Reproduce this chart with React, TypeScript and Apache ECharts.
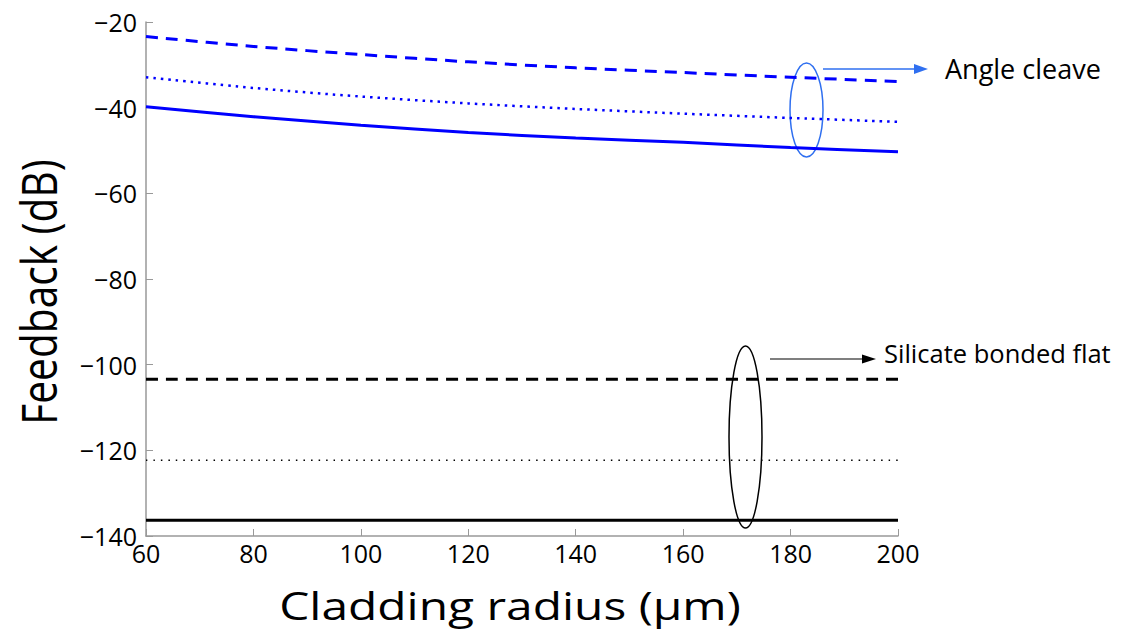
import React, { useEffect, useRef } from "react";
import * as echarts from "echarts";

const radius = [60, 80, 100, 120, 140, 160, 180, 200];
const angleDashed = [-23.4, -25.7, -27.6, -29.3, -30.7, -31.8, -32.9, -33.9];
const angleDotted = [-32.9, -35.4, -37.4, -39.0, -40.3, -41.4, -42.4, -43.3];
const angleSolid = [-39.8, -42.1, -44.1, -45.8, -47.1, -48.1, -49.3, -50.3];
const flatDashed = [-103.4, -103.4, -103.4, -103.4, -103.4, -103.4, -103.4, -103.4];
const flatDotted = [-122.3, -122.3, -122.3, -122.3, -122.3, -122.3, -122.3, -122.3];
const flatSolid = [-136.3, -136.3, -136.3, -136.3, -136.3, -136.3, -136.3, -136.3];
const xTicks = [60, 80, 100, 120, 140, 160, 180, 200];
const yTicks = [-140, -120, -100, -80, -60, -40, -20];

const FONT = "'Open Sans', 'Noto Sans', sans-serif";

function pairs(ys: number[]) {
  return radius.map((x, i) => [x, ys[i]]);
}

export default function App() {
  const ref = useRef<HTMLDivElement>(null);
  useEffect(() => {
    if (!ref.current) return;
    const chart = echarts.init(ref.current, null, { renderer: "svg" });
    const line = (name: string, data: number[], color: string, type: any, width: number) => ({
      name,
      type: "line",
      data: pairs(data),
      showSymbol: false,
      smooth: 0.3,
      lineStyle: { color, type, width, cap: "butt" },
    });
    chart.setOption({
      animation: false,
      textStyle: { fontFamily: FONT },
      grid: { left: 146, right: 228, top: 22, bottom: 102 },
      xAxis: {
        type: "value",
        min: xTicks[0],
        max: xTicks[xTicks.length - 1],
        interval: 20,
        axisLine: { show: true, lineStyle: { color: "#999", width: 1.5 } },
        axisTick: { show: true, inside: true, length: 7, lineStyle: { color: "#999" } },
        splitLine: { show: false },
        axisLabel: { color: "#000", fontSize: 25, fontFamily: FONT, margin: 4 },
      },
      yAxis: {
        type: "value",
        min: yTicks[0],
        max: yTicks[yTicks.length - 1],
        interval: 20,
        axisLine: { show: true, lineStyle: { color: "#999", width: 1.5 } },
        axisTick: { show: true, inside: true, length: 7, lineStyle: { color: "#999" } },
        splitLine: { show: false },
        axisLabel: {
          color: "#000",
          fontSize: 25,
          fontFamily: FONT,
          margin: 9,
          formatter: (v: number) => String(v).replace("-", "\u2212"),
        },
      },
      series: [
        line("angle dashed", angleDashed, "#0000ff", [12, 8], 3),
        line("angle dotted", angleDotted, "#0000ff", [2.5, 5], 2.5),
        line("angle solid", angleSolid, "#0000ff", "solid", 3),
        line("flat dashed", flatDashed, "#000000", [12, 8], 3),
        line("flat dotted", flatDotted, "#000000", [1.5, 6], 1.5),
        line("flat solid", flatSolid, "#000000", "solid", 3),
      ],
      graphic: [
        {
          type: "text",
          x: 38,
          y: 292,
          rotation: Math.PI / 2,
          scaleX: 1.07,
          scaleY: 1.3,
          style: {
            text: "Feedback (dB)",
            font: `38px ${FONT}`,
            fill: "#000",
            align: "center",
            verticalAlign: "middle",
          },
        },
        {
          type: "text",
          x: 510,
          y: 605,
          scaleX: 1.26,
          style: {
            text: "Cladding radius (\u03bcm)",
            font: `38px ${FONT}`,
            fill: "#000",
            align: "center",
            verticalAlign: "middle",
          },
        },
        {
          type: "ellipse",
          shape: { cx: 806.5, cy: 110, rx: 16.5, ry: 47 },
          style: { fill: "none", stroke: "#2f6ff0", lineWidth: 1.5 },
        },
        {
          type: "line",
          shape: { x1: 823, y1: 69, x2: 916, y2: 69 },
          style: { stroke: "#2f6ff0", lineWidth: 1.5 },
        },
        {
          type: "polygon",
          shape: { points: [[928, 69], [914, 64], [914, 74]] },
          style: { fill: "#2f6ff0" },
        },
        {
          type: "text",
          x: 945,
          y: 68,
          style: {
            text: "Angle cleave",
            font: `27px ${FONT}`,
            fill: "#000",
            verticalAlign: "middle",
          },
        },
        {
          type: "ellipse",
          shape: { cx: 745.5, cy: 437, rx: 16.5, ry: 91 },
          style: { fill: "none", stroke: "#000", lineWidth: 1.5 },
        },
        {
          type: "line",
          shape: { x1: 770, y1: 359, x2: 864, y2: 359 },
          style: { stroke: "#000", lineWidth: 1.2 },
        },
        {
          type: "polygon",
          shape: { points: [[876, 359], [862, 354.5], [862, 363.5]] },
          style: { fill: "#000" },
        },
        {
          type: "text",
          x: 884,
          y: 353,
          style: {
            text: "Silicate bonded flat",
            font: `25.5px ${FONT}`,
            fill: "#000",
            verticalAlign: "middle",
          },
        },
      ],
    });
    return () => chart.dispose();
  }, []);
  return <div ref={ref} style={{ width: 1126, height: 638, margin: -8 }} />;
}
